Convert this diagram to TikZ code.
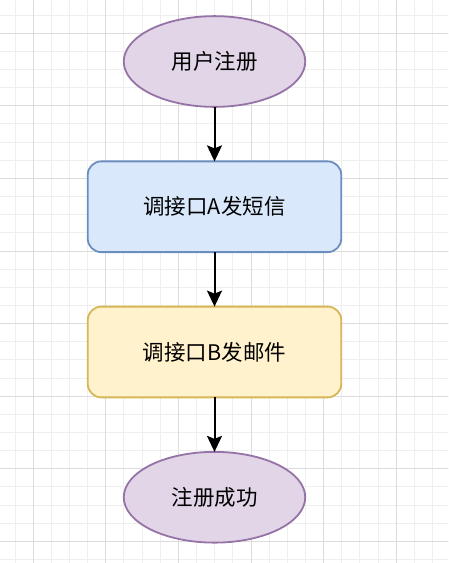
\documentclass[tikz,border=0pt]{standalone}
\usepackage{fontspec}
\setmainfont{Noto Sans CJK SC}
\usepackage{xcolor}
\usetikzlibrary{arrows.meta}
\usetikzlibrary{positioning,shapes}
\definecolor{purpfill}{HTML}{E1D5E7}
\definecolor{purpline}{HTML}{9673A6}
\definecolor{bluefill}{HTML}{DAE8FC}
\definecolor{blueline}{HTML}{6C8EBF}
\definecolor{yelfill}{HTML}{FFF2CC}
\definecolor{yelline}{HTML}{D6B656}
\definecolor{minorgrid}{HTML}{EFEFEF}
\definecolor{majorgrid}{HTML}{DCDCDC}

\begin{document}
\begin{tikzpicture}[%
        every node/.style={font=\fontsize{21.5}{26}\selectfont, inner sep=0pt, outer sep=0pt, line width=1.8pt},
        term/.style={ellipse, draw=purpline, fill=purpfill, minimum width=181.5pt, minimum height=90.75pt},
        proc/.style={rectangle, rounded corners=13.5pt, minimum width=253.5pt, minimum height=90.75pt},
        node distance=54.5pt, >={Stealth[length=16pt,width=15pt,inset=3pt]}
      ]
      \clip (0,0) rectangle (448pt,-563pt);
      \useasboundingbox (0,0) rectangle (448pt,-563pt);
      \begin{scope}[shift={(33.2pt,-33.2pt)}]
        \draw [minorgrid, line width=1pt, step=18.15pt] (-36.3pt,36.3pt) grid (435.6pt,-544.5pt);
        \draw [majorgrid, line width=1pt, step=72.6pt] (-72.6pt,72.6pt) grid (435.6pt,-580.8pt);
      \end{scope}
      \node [term] (0) at (214.5pt,-61.5pt) {用户注册};
      \node [proc, draw=blueline, fill=bluefill, below=of 0] (1) {调接口A发短信};
      \node [proc, draw=yelline, fill=yelfill, below=of 1] (2) {调接口B发邮件};
      \node [term, below=of 2] (3) {注册成功};
      \path [draw, line width=2pt] (0) edge[->] (1)
      (1) edge[->] (2)
      (2) edge[->] (3);
    \end{tikzpicture}
\end{document}
